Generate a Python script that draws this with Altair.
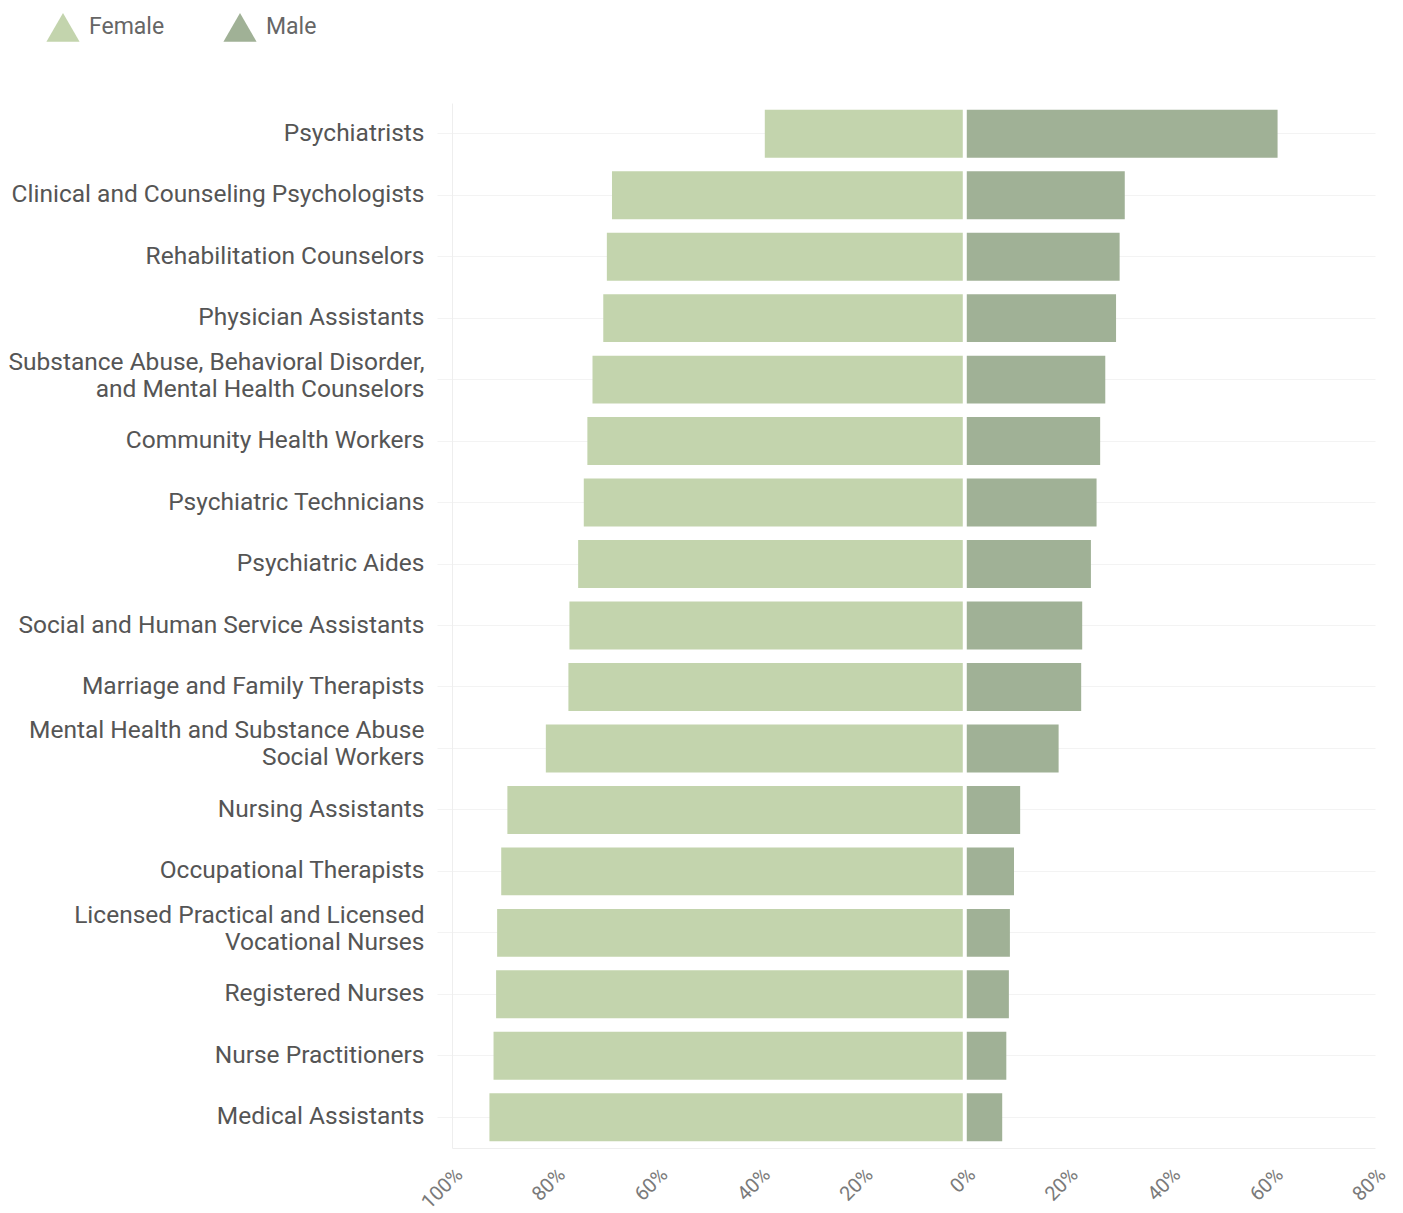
import altair as alt
import pandas as pd

categories = [
    "Psychiatrists",
    "Clinical and Counseling Psychologists",
    "Rehabilitation Counselors",
    "Physician Assistants",
    "Substance Abuse, Behavioral Disorder,|and Mental Health Counselors",
    "Community Health Workers",
    "Psychiatric Technicians",
    "Psychiatric Aides",
    "Social and Human Service Assistants",
    "Marriage and Family Therapists",
    "Mental Health and Substance Abuse|Social Workers",
    "Nursing Assistants",
    "Occupational Therapists",
    "Licensed Practical and Licensed|Vocational Nurses",
    "Registered Nurses",
    "Nurse Practitioners",
    "Medical Assistants",
]
female = [39.0, 68.8, 69.8, 70.5, 72.6, 73.6, 74.3, 75.4, 77.1, 77.3, 81.7, 89.2, 90.4, 91.2, 91.4, 91.9, 92.7]
male = [61.0, 31.2, 30.2, 29.5, 27.4, 26.4, 25.7, 24.6, 22.9, 22.7, 18.3, 10.8, 9.6, 8.8, 8.6, 8.1, 7.3]
sexes = ["Female", "Male"]
colors = ["#c3d4ad", "#a0b196"]
x_ticks = [-100, -80, -60, -40, -20, 0, 20, 40, 60, 80]

rows = []
for c, f, m in zip(categories, female, male):
    rows.append({"occupation": c, "sex": "Female", "value": -f})
    rows.append({"occupation": c, "sex": "Male", "value": m})
df = pd.DataFrame(rows)

FONT = "Roboto"

bars = alt.Chart(df).mark_bar().encode(
    y=alt.Y(
        "occupation:N",
        sort=categories,
        title=None,
        scale=alt.Scale(paddingInner=0.22, paddingOuter=0.11),
        axis=alt.Axis(
            labelExpr="split(datum.label, '|')",
            labelFontSize=24.5,
            labelFont=FONT,
            labelColor="#555555",
            labelPadding=13,
            labelLineHeight=27,
            labelOffset={
                "condition": {"test": "indexof(datum.value, '|') >= 0", "value": -17},
                "value": 0,
            },
            ticks=True,
            tickSize=15,
            tickColor="#f3f3f3",
            domain=True,
            domainColor="#eeeeee",
            grid=True,
            gridColor="#f3f3f3",
            labelLimit=600,
        ),
    ),
    x=alt.X(
        "value:Q",
        title=None,
        scale=alt.Scale(domain=[-100, 80], nice=False),
        axis=alt.Axis(
            values=x_ticks,
            labelExpr="abs(datum.value) + '%'",
            labelAngle=315,
            labelFontSize=20,
            labelFont=FONT,
            labelColor="#7a7a7a",
            labelPadding=16,
            ticks=False,
            grid=False,
            domain=True,
            domainColor="#eeeeee",
        ),
    ),
    color=alt.Color(
        "sex:N",
        scale=alt.Scale(domain=sexes, range=colors),
        legend=alt.Legend(
            title=None,
            orient="none",
            direction="horizontal",
            legendX=-406,
            legendY=-93,
            symbolType="triangle-up",
            symbolSize=1100,
            symbolOpacity=1,
            symbolStrokeWidth=0,
            labelFontSize=23,
            labelFont=FONT,
            labelColor="#666666",
            columnPadding=58,
            labelOffset=9,
        ),
    ),
)

zero = alt.Chart(pd.DataFrame({"x": [0]})).mark_rule(color="white", strokeWidth=4).encode(
    x=alt.X("x:Q")
)

chart = (
    alt.layer(bars, zero)
    .properties(
        width=923,
        height=1045,
        autosize=alt.AutoSizeParams(type="none"),
        padding={"left": 452, "top": 103, "right": 28, "bottom": 65},
        view=alt.ViewBackground(stroke="transparent", strokeWidth=0),
    )
    .configure_view(stroke="transparent", strokeWidth=0)
    .configure(background="white")
)

chart.save("out.html", embed_options={"renderer": "svg", "actions": False})
